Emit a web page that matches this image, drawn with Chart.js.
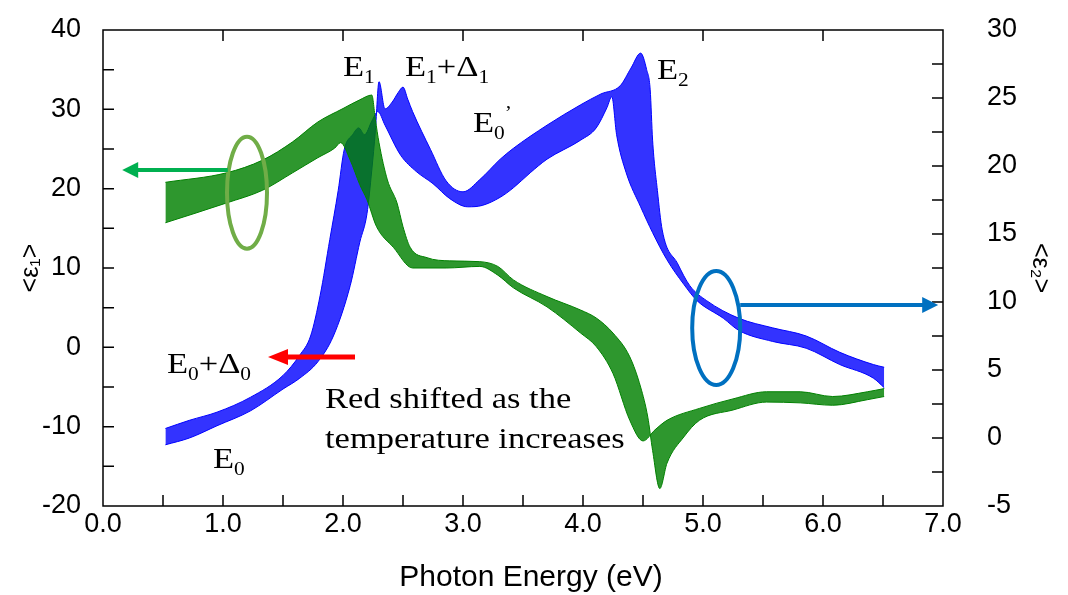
<!DOCTYPE html>
<html>
<head>
<meta charset="utf-8">
<script src="https://cdn.jsdelivr.net/npm/chart.js@4/dist/chart.umd.min.js"></script>
<style>
  html, body { margin: 0; background: #fff; }
</style>
</head>
<body>
<canvas id="chart" width="1068" height="595"></canvas>
<script>
// <eps1> (left axis): edges of the temperature bundle
const eps1LowTEnergy = [0.52, 1.03, 1.33, 1.58, 1.79, 2.00, 2.14, 2.24, 2.27, 2.30, 2.37, 2.45, 2.50, 2.56, 2.70, 2.89, 3.14, 3.29, 3.42, 3.70, 3.98, 4.11, 4.25, 4.39, 4.48, 4.54, 4.58, 4.64, 4.70, 4.84, 4.97, 5.25, 5.53, 5.81, 6.08, 6.37, 6.51];
const eps1LowT = [20.8, 22.0, 23.6, 25.9, 28.4, 30.1, 31.2, 31.8, 28.7, 25.8, 21.1, 18.2, 15.2, 12.6, 11.3, 10.9, 10.8, 10.2, 8.5, 6.4, 4.7, 3.7, 1.8, -1.2, -5.0, -8.8, -13.0, -17.8, -14.6, -11.3, -9.2, -7.9, -6.9, -7.0, -7.3, -6.6, -6.2];

const eps1HighTEnergy = [0.52, 1.03, 1.33, 1.58, 1.79, 1.93, 1.98, 2.06, 2.14, 2.20, 2.28, 2.42, 2.58, 2.86, 3.14, 3.29, 3.42, 3.70, 3.98, 4.11, 4.25, 4.39, 4.50, 4.60, 4.70, 4.97, 5.25, 5.53, 5.81, 6.08, 6.37, 6.51];
const eps1HighT = [15.7, 18.2, 19.8, 22.0, 23.9, 25.1, 25.8, 23.6, 20.5, 18.6, 15.2, 12.6, 10.0, 10.0, 10.2, 9.1, 7.5, 5.1, 1.8, 0.1, -3.3, -9.2, -11.8, -10.4, -9.2, -7.7, -6.5, -5.6, -5.6, -6.2, -5.6, -5.2];

// <eps2> (right axis)
const eps2LowTEnergy = [0.52, 0.72, 0.95, 1.23, 1.50, 1.64, 1.79, 1.92, 2.06, 2.14, 2.20, 2.24, 2.27, 2.30, 2.35, 2.41, 2.46, 2.50, 2.54, 2.58, 2.73, 2.86, 3.00, 3.14, 3.31, 3.42, 3.70, 3.98, 4.15, 4.31, 4.40, 4.48, 4.53, 4.56, 4.58, 4.62, 4.66, 4.79, 4.89, 5.03, 5.30, 5.58, 5.86, 6.14, 6.42, 6.51];
const eps2LowT = [-0.5, 0.0, 0.9, 2.0, 3.6, 4.4, 5.6, 7.5, 11.2, 14.4, 16.5, 19.7, 22.6, 26.2, 24.2, 24.7, 25.4, 25.8, 24.9, 24.0, 21.2, 18.9, 18.1, 19.0, 20.5, 21.3, 23.0, 24.5, 25.3, 25.9, 27.2, 28.3, 27.1, 25.6, 21.9, 18.2, 15.3, 12.8, 11.2, 10.1, 8.8, 8.1, 7.5, 6.3, 5.4, 5.2];

const eps2HighTEnergy = [0.52, 0.72, 0.95, 1.23, 1.50, 1.64, 1.73, 1.81, 1.89, 1.96, 2.01, 2.08, 2.13, 2.18, 2.24, 2.29, 2.35, 2.48, 2.61, 2.75, 2.89, 3.04, 3.16, 3.31, 3.42, 3.56, 3.70, 3.98, 4.11, 4.20, 4.24, 4.28, 4.36, 4.48, 4.58, 4.70, 4.84, 4.95, 5.17, 5.30, 5.58, 5.86, 6.14, 6.42, 6.51];
const eps2HighT = [0.7, 1.3, 1.9, 3.0, 4.6, 6.1, 7.5, 10.5, 14.6, 18.2, 21.2, 22.3, 22.8, 22.3, 23.3, 24.0, 23.0, 20.8, 19.6, 18.7, 17.6, 17.0, 17.1, 17.7, 18.4, 19.5, 20.5, 21.9, 22.8, 24.3, 25.1, 22.3, 19.5, 17.0, 15.1, 13.1, 11.3, 10.1, 8.8, 7.9, 7.1, 6.6, 5.4, 4.4, 3.7];

const xTicks = [0, 1, 2, 3, 4, 5, 6, 7];
const leftTicks = [-20, -10, 0, 10, 20, 30, 40];
const rightTicks = [-5, 0, 5, 10, 15, 20, 25, 30];

const green = 'rgb(0,128,0)';
const blue = 'rgb(0,0,255)';
const sans = '"Liberation Sans", Arial, sans-serif';
const serif = '"Liberation Serif", "Times New Roman", serif';

function pts(xs, ys) {
    return xs.map((x, i) => ({ x: x, y: ys[i] }));
}

// text like E0+Δ0 with subscripts, slightly widened like the original figure
function richText(ctx, parts, x, y, size) {
    ctx.save();
    ctx.translate(x, y);
    ctx.scale(1.15, 1);
    ctx.textAlign = 'left';
    ctx.textBaseline = 'alphabetic';
    let cx = 0;
    for (const [t, kind] of parts) {
        const s = kind ? size * 0.62 : size;
        const dy = kind === 'sub' ? size * 0.22 : (kind === 'sup' ? -size * 0.42 : 0);
        ctx.font = s + 'px ' + serif;
        ctx.fillText(t, cx, dy);
        cx += ctx.measureText(t).width;
    }
    ctx.restore();
}

function arrow(ctx, xFrom, xTip, y, color, width, headLen, headHalf) {
    const dir = xTip > xFrom ? 1 : -1;
    ctx.strokeStyle = color;
    ctx.fillStyle = color;
    ctx.lineWidth = width;
    ctx.beginPath();
    ctx.moveTo(xFrom, y);
    ctx.lineTo(xTip - dir * headLen * 0.8, y);
    ctx.stroke();
    ctx.beginPath();
    ctx.moveTo(xTip, y);
    ctx.lineTo(xTip - dir * headLen, y - headHalf);
    ctx.lineTo(xTip - dir * headLen, y + headHalf);
    ctx.closePath();
    ctx.fill();
}

function ellipse(ctx, cx, cy, rx, ry, color) {
    ctx.strokeStyle = color;
    ctx.lineWidth = 4;
    ctx.beginPath();
    ctx.ellipse(cx, cy, rx, ry, 0, 0, Math.PI * 2);
    ctx.stroke();
}

const decorations = {
    id: 'decorations',
    afterDraw(chart) {
        const { ctx, chartArea: a, scales } = chart;
        const x = scales.x, y = scales.y, y2 = scales.y2;
        ctx.save();

        // frame and inward ticks
        ctx.strokeStyle = '#000';
        ctx.lineWidth = 1.5;
        ctx.strokeRect(a.left, a.top, a.right - a.left, a.bottom - a.top);
        const L = 11;
        ctx.beginPath();
        for (let v = 0.5; v < 7; v += 0.5) {
            const px = x.getPixelForValue(v);
            ctx.moveTo(px, a.bottom); ctx.lineTo(px, a.bottom - L);
        }
        for (const v of xTicks.slice(1, -1)) {
            const px = x.getPixelForValue(v);
            ctx.moveTo(px, a.top); ctx.lineTo(px, a.top + L);
        }
        for (let v = -15; v < 40; v += 5) {
            const py = y.getPixelForValue(v);
            ctx.moveTo(a.left, py); ctx.lineTo(a.left + L, py);
        }
        for (let v = -2.5; v < 30; v += 2.5) {
            const py = y2.getPixelForValue(v);
            ctx.moveTo(a.right, py); ctx.lineTo(a.right - L, py);
        }
        ctx.stroke();

        // axis titles
        ctx.fillStyle = '#000';
        ctx.textAlign = 'center';
        ctx.textBaseline = 'middle';
        ctx.font = '30px ' + sans;
        ctx.fillText('Photon Energy (eV)', (a.left + a.right) / 2 + 8, 578);
        ctx.save();
        ctx.translate(31, (a.top + a.bottom) / 2);
        ctx.rotate(-Math.PI / 2);
        ctx.font = '25px ' + sans;
        ctx.fillText('<ε\u2081>', 0, 0);
        ctx.restore();
        ctx.save();
        ctx.translate(1040, (a.top + a.bottom) / 2);
        ctx.rotate(Math.PI / 2);
        ctx.font = '25px ' + sans;
        ctx.fillText('<ε\u2082>', 0, 0);
        ctx.restore();

        // ellipses and arrows
        ellipse(ctx, x.getPixelForValue(1.20), y.getPixelForValue(19.5), 20, 56, '#70AD47');
        arrow(ctx, x.getPixelForValue(1.04), x.getPixelForValue(0.16), y.getPixelForValue(22.35), '#00B050', 4, 16, 8);
        ellipse(ctx, x.getPixelForValue(5.11), y2.getPixelForValue(8.09), 24, 57, '#0070C0');
        arrow(ctx, x.getPixelForValue(5.31), x.getPixelForValue(6.96), y2.getPixelForValue(9.78), '#0070C0', 4, 16, 8);
        arrow(ctx, x.getPixelForValue(2.10), x.getPixelForValue(1.375), y.getPixelForValue(-1.22), '#FF0000', 5, 20, 8);

        // transition labels
        ctx.fillStyle = '#000';
        const T = (e, v, parts) => richText(ctx, parts, x.getPixelForValue(e), y.getPixelForValue(v), 30);
        T(2.0, 34.2, [['E', ''], ['1', 'sub']]);
        T(2.517, 34.2, [['E', ''], ['1', 'sub'], ['+Δ', ''], ['1', 'sub']]);
        T(3.083, 27.14, [['E', ''], ['0', 'sub'], ['\u2019', 'sup']]);
        T(4.617, 33.82, [['E', ''], ['2', 'sub']]);
        T(0.533, -3.24, [['E', ''], ['0', 'sub'], ['+Δ', ''], ['0', 'sub']]);
        T(0.917, -15.21, [['E', ''], ['0', 'sub']]);
        T(1.85, -7.65, [['Red shifted as the', '']]);
        T(1.85, -12.69, [['temperature increases', '']]);

        ctx.restore();
    }
};

// keep the plot box where the figure has it: no extra room for half labels
const noLabelPad = s => { s.paddingTop = 0; s.paddingBottom = 0; };

const ctx = document.getElementById('chart').getContext('2d');
new Chart(ctx, {
    type: 'scatter',
    data: {
        datasets: [
            {
                label: '<ε1> low T',
                data: pts(eps1LowTEnergy, eps1LowT),
                yAxisID: 'y',
                borderColor: green,
                fill: false
            },
            {
                label: '<ε1> high T',
                data: pts(eps1HighTEnergy, eps1HighT),
                yAxisID: 'y',
                borderColor: green,
                backgroundColor: 'rgba(0,128,0,0.82)',
                fill: { target: 0 }
            },
            {
                label: '<ε2> low T',
                data: pts(eps2LowTEnergy, eps2LowT),
                yAxisID: 'y2',
                borderColor: blue,
                fill: false
            },
            {
                label: '<ε2> high T',
                data: pts(eps2HighTEnergy, eps2HighT),
                yAxisID: 'y2',
                borderColor: blue,
                backgroundColor: 'rgba(0,0,255,0.8)',
                fill: { target: 2 }
            }
        ]
    },
    options: {
        responsive: false,
        devicePixelRatio: 1,
        animation: false,
        showLine: true,
        elements: {
            point: { radius: 0 },
            line: { borderWidth: 1, cubicInterpolationMode: 'monotone' }
        },
        layout: { padding: { top: 30, left: 0, right: 0, bottom: 0 } },
        plugins: {
            legend: { display: false },
            tooltip: { enabled: false }
        },
        scales: {
            x: {
                type: 'linear',
                position: 'bottom',
                min: 0,
                max: 7,
                afterBuildTicks: s => { s.ticks = xTicks.map(v => ({ value: v })); },
                afterFit: s => { s.height = 89; },
                grid: { display: false },
                border: { display: false },
                ticks: {
                    color: '#000',
                    padding: -6,
                    maxRotation: 0,
                    font: { family: sans, size: 27 },
                    callback: v => v.toFixed(1)
                }
            },
            y: {
                type: 'linear',
                position: 'left',
                min: -20,
                max: 40,
                afterBuildTicks: s => { s.ticks = leftTicks.map(v => ({ value: v })); },
                afterFit: s => { s.width = 103; noLabelPad(s); },
                grid: { display: false },
                border: { display: false },
                ticks: {
                    color: '#000',
                    padding: 14,
                    font: { family: sans, size: 27 }
                }
            },
            y2: {
                type: 'linear',
                position: 'right',
                min: -5,
                max: 30,
                afterBuildTicks: s => { s.ticks = rightTicks.map(v => ({ value: v })); },
                afterFit: s => { s.width = 125; noLabelPad(s); },
                grid: { display: false },
                border: { display: false },
                ticks: {
                    color: '#000',
                    padding: 36,
                    font: { family: sans, size: 27 }
                }
            }
        }
    },
    plugins: [decorations]
});
</script>
</body>
</html>
